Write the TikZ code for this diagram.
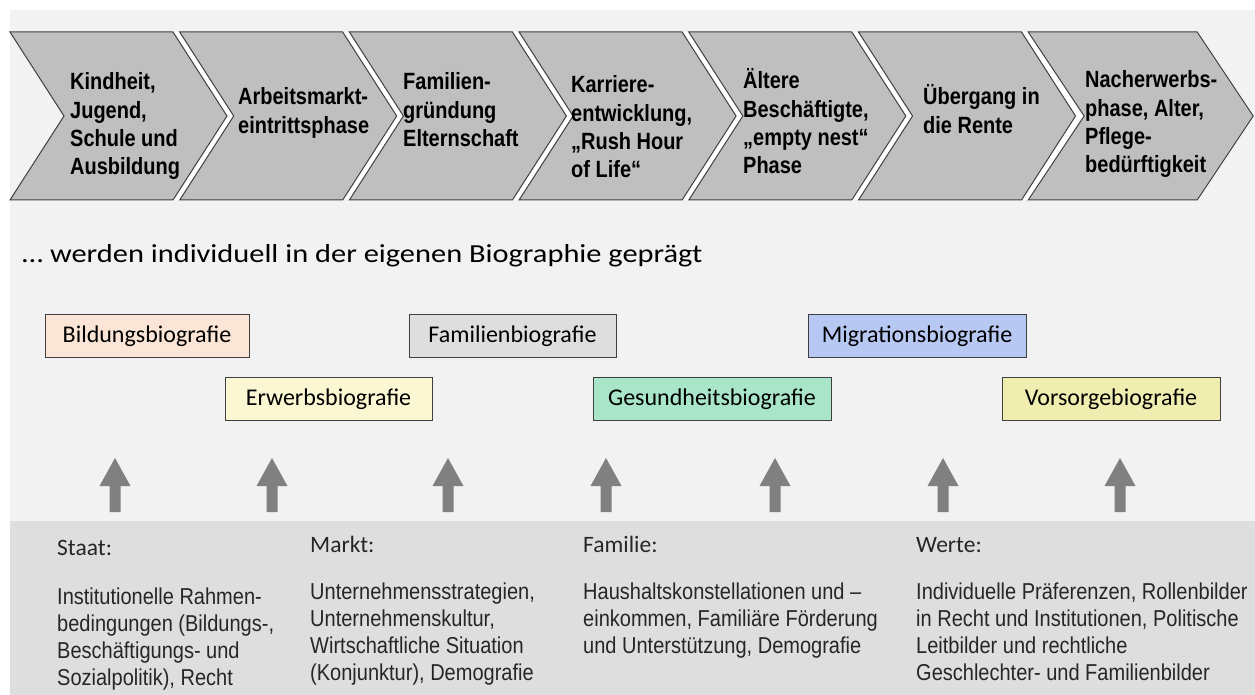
\documentclass[tikz,border=0pt]{standalone}
\usepackage{fontspec}
\setmainfont{Carlito}
\newfontfamily\headfont[FakeStretch=1.17]{Carlito}
\newfontfamily\chevfont[FakeStretch=0.85]{Liberation Sans}
\newfontfamily\bodyfont[FakeStretch=0.87]{Liberation Sans}
\definecolor{panel}{HTML}{F2F2F2}
\definecolor{panelB}{HTML}{DEDEDE}
\definecolor{chevgray}{HTML}{BFBFBF}
\definecolor{chevline}{HTML}{404040}
\definecolor{boxline}{HTML}{404040}
\definecolor{arrowgray}{HTML}{808080}
\definecolor{cBild}{HTML}{FBE5D6}
\definecolor{cFam}{HTML}{DEDEDE}
\definecolor{cMig}{HTML}{B7C8F2}
\definecolor{cErw}{HTML}{FAF7D2}
\definecolor{cGes}{HTML}{A9E5C9}
\definecolor{cVor}{HTML}{EFEDAF}
\definecolor{bodytext}{HTML}{262626}
\begin{document}
\begin{tikzpicture}[x=1pt,y=-1pt,
  chev/.style={fill=chevgray,draw=chevline,line width=1pt,line join=miter},
  chevtext/.style={anchor=base west,inner sep=0pt,align=left,text=black,
    font=\chevfont\bfseries\fontsize{23.5}{28.3}\selectfont},
  biobox/.style={draw=boxline,line width=1pt,minimum height=43pt,
    text height=16pt,text depth=3pt,inner sep=0pt,
    font=\fontsize{24}{28}\selectfont,text=black},
  headtext/.style={anchor=base west,inner sep=0pt,font=\headfont\fontsize{26}{30}\selectfont,text=black},
  collabel/.style={anchor=base west,inner sep=0pt,font=\fontsize{23.5}{28}\selectfont,text=bodytext},
  colbody/.style={anchor=base west,inner sep=0pt,align=left,text=bodytext,
    font=\bodyfont\fontsize{23}{27}\selectfont},
  uparrow/.style={fill=arrowgray}
]
\useasboundingbox (0,0) rectangle (1255,695);
\fill[white] (0,0) rectangle (1255,695);
\fill[panel] (10,10) rectangle (1255,695);
\fill[panelB] (10,521) rectangle (1255,695);

% white gaps between chevrons
\foreach \R/\N in {173/179.7, 342.7/349.4, 512.4/519.1, 682.1/688.8, 851.8/858.5, 1021.5/1028.2}{
  \fill[white] (\R,32) -- ({\R+54},116) -- (\R,200) -- (\N,200) -- ({\N+54},116) -- (\N,32) -- cycle;
}
% chevrons
\foreach \L/\w/\d in {10/163/54, 179.7/163/54, 349.4/163/54, 519.1/163/54, 688.8/163/54, 858.5/163/54, 1028.2/169/56}{
  \draw[chev] (\L,32) -- ({\L+\w},32) -- ({\L+\w+\d},116) -- ({\L+\w},200) -- (\L,200) -- ({\L+\d},116) -- cycle;
}

% base anchor = baseline of the last line
\node[chevtext] (p1) at (70,174.9) {Kindheit,\\Jugend,\\Schule und\\Ausbildung};
\node[chevtext] (p2) at (238,133.3) {Arbeitsmarkt-\\eintrittsphase};
\node[chevtext] (p3) at (403,146.6) {Familien-\\gründung\\Elternschaft};
\node[chevtext] (p4) at (571,177.9) {Karriere-\\entwicklung,\\„Rush Hour\\of Life“};
\node[chevtext] (p5) at (743,173.9) {Ältere\\Beschäftigte,\\„empty nest“\\Phase};
\node[chevtext] (p6) at (923,133.3) {Übergang in\\die Rente};
\node[chevtext] (p7) at (1085,172.9) {Nacherwerbs-\\phase, Alter,\\Pflege-\\bedürftigkeit};

\node[headtext] (head) at (22,262) {… werden individuell in der eigenen Biographie geprägt};

\node[biobox,fill=cBild,minimum width=204pt] (bild) at (147,335.5) {Bildungsbiografie};
\node[biobox,fill=cFam,minimum width=207pt] (fam) at (512.5,335.5) {Familienbiografie};
\node[biobox,fill=cMig,minimum width=218pt] (mig) at (917,335.5) {Migrationsbiografie};
\node[biobox,fill=cErw,minimum width=207pt] (erw) at (328.5,398.5) {Erwerbsbiografie};
\node[biobox,fill=cGes,minimum width=238pt] (ges) at (712,398.5) {Gesundheitsbiografie};
\node[biobox,fill=cVor,minimum width=218pt] (vor) at (1111,398.5) {Vorsorgebiografie};

\foreach \x in {115,272,448,606,775,943,1120}{
  \fill[uparrow] (\x,458) -- ({\x+15.5},486) -- ({\x+5.5},486) -- ({\x+5.5},512)
    -- ({\x-5.5},512) -- ({\x-5.5},486) -- ({\x-15.5},486) -- cycle;
}

\node[collabel] (staat) at (57,555) {Staat:};
\node[collabel] (markt) at (310,552) {Markt:};
\node[collabel] (familie) at (583,552) {Familie:};
\node[collabel] (werte) at (916,552) {Werte:};

\node[colbody] (staatb) at (57,685) {Institutionelle Rahmen-\\bedingungen (Bildungs-,\\Beschäftigungs- und\\Sozialpolitik), Recht};
\node[colbody] (marktb) at (310,680) {Unternehmensstrategien,\\Unternehmenskultur,\\Wirtschaftliche Situation\\(Konjunktur), Demografie};
\node[colbody] (familieb) at (583,653) {Haushaltskonstellationen und –\\einkommen, Familiäre Förderung\\und Unterstützung, Demografie};
\node[colbody] (werteb) at (916,680) {Individuelle Präferenzen, Rollenbilder\\in Recht und Institutionen, Politische\\Leitbilder und rechtliche\\Geschlechter- und Familienbilder};
\end{tikzpicture}
\end{document}
